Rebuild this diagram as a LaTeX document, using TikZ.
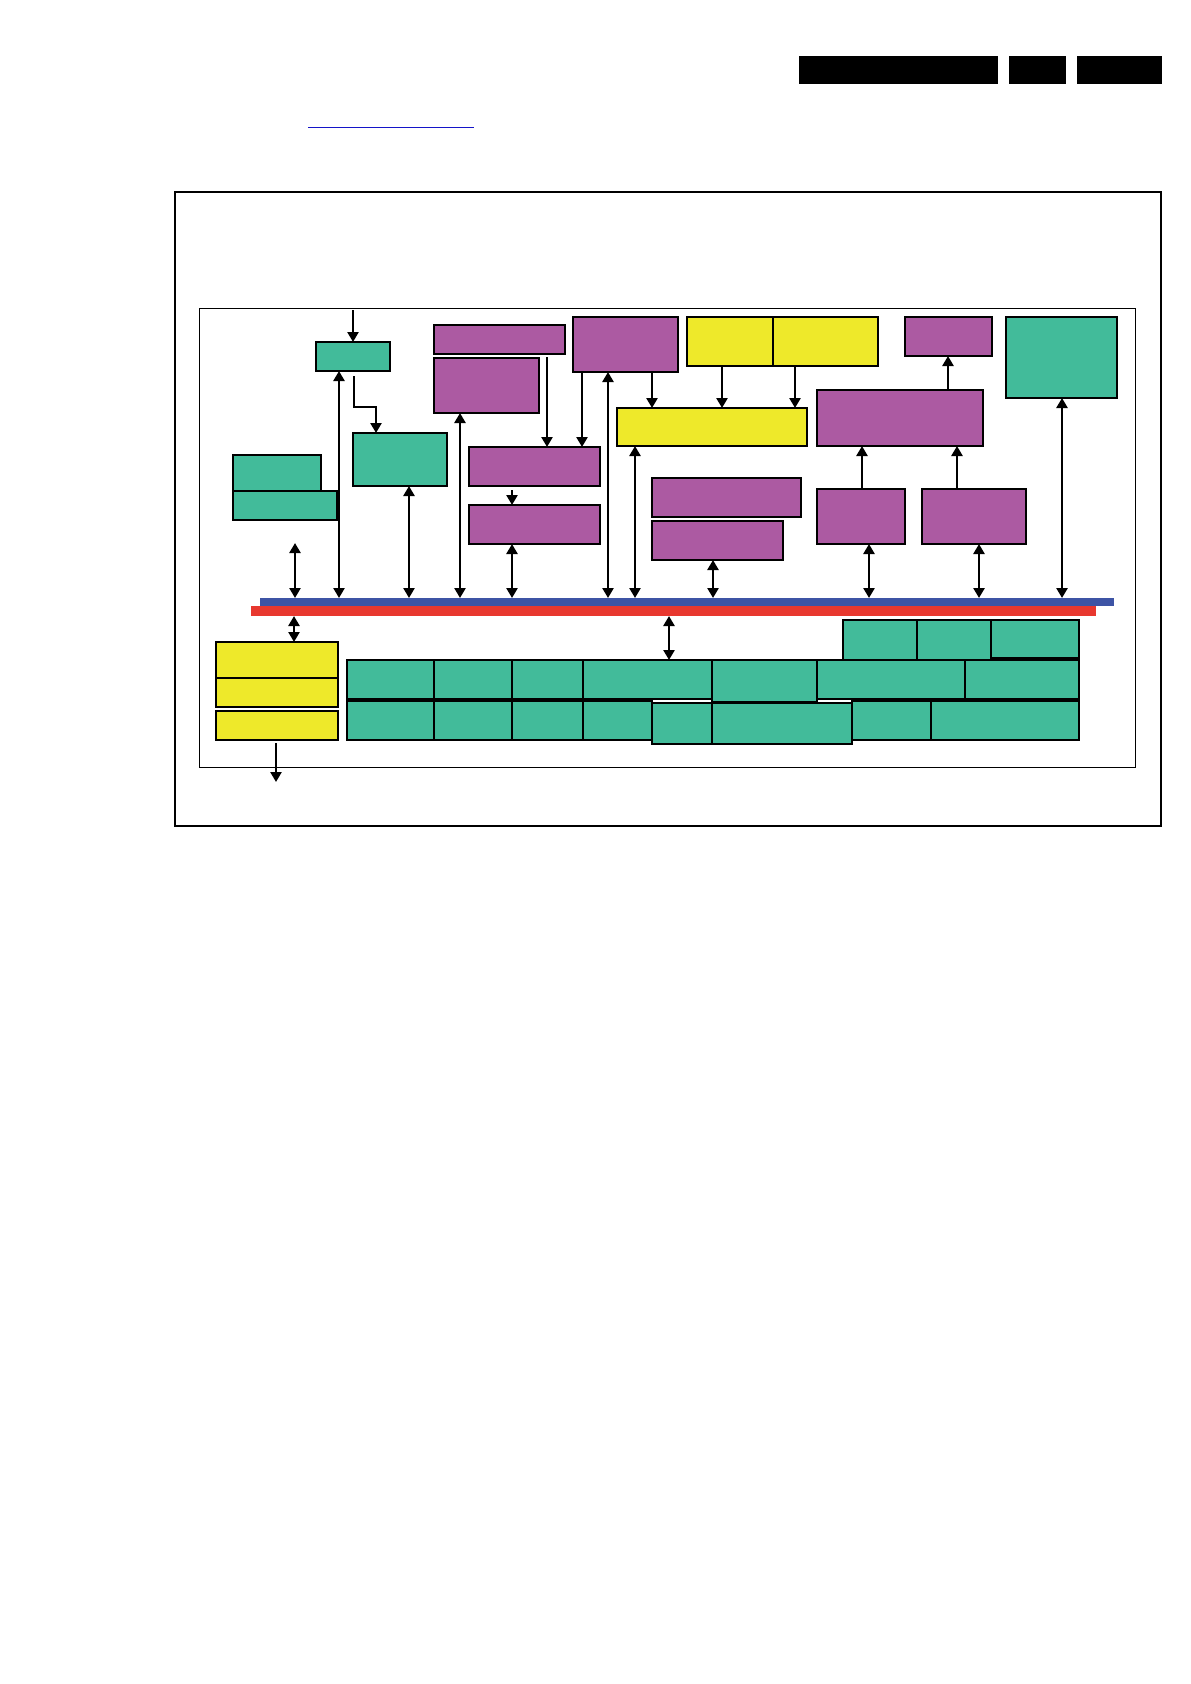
\documentclass[tikz,border=0pt]{standalone}
\usetikzlibrary{arrows.meta,positioning}
\definecolor{grnfill}{RGB}{66,187,154}
\definecolor{magfill}{RGB}{172,90,162}
\definecolor{yelfill}{RGB}{238,233,42}
\definecolor{busblue}{RGB}{61,84,165}
\definecolor{busred}{RGB}{232,56,47}
\definecolor{linkblue}{RGB}{20,20,200}

% block from top-left (x1,y1) to bottom-right (x2,y2), in pixels
\newcommand\blockbox[6]{%
  \node[#1, minimum width={(#5-#3)*1pt}, minimum height={(#6-#4)*1pt}] (#2) at (#3,#4) {};}

\begin{document}
\begin{tikzpicture}[x=1pt,y=-1pt,
    box/.style={draw=black, line width=2pt, inner sep=0pt, outer sep=0pt, anchor=north west},
    grn/.style={box, fill=grnfill},
    mag/.style={box, fill=magfill},
    yel/.style={box, fill=yelfill},
    bar/.style={box, draw=none, fill=black},
    link/.style={line width=2.6pt, -{Triangle[length=10pt,width=11pt]}},
    both/.style={line width=2.6pt, {Triangle[length=10pt,width=11pt]}-{Triangle[length=10pt,width=11pt]}}]
    \useasboundingbox (0,0) rectangle (1191,1684);

    % page header
    \blockbox{bar}{hdA}{799}{56}{998}{84}
    \blockbox{bar}{hdB}{1009}{56}{1066}{84}
    \blockbox{bar}{hdC}{1077}{56}{1162}{84}
    \draw[linkblue, line width=1pt] (308,127) -- (474,127);

    % frames
    \blockbox{box, line width=2pt}{frame}{175}{192}{1161}{826}
    \blockbox{box, line width=1pt}{chip}{199}{308}{1135}{767}

    % upper blocks
    \blockbox{grn}{inp}{316}{342}{390}{371}
    \blockbox{grn}{dec}{353}{433}{447}{486}
    \blockbox{grn}{ifA}{233}{455}{321}{491}
    \blockbox{grn}{ifB}{233}{491}{337}{520}
    \blockbox{mag}{vidA}{434}{325}{565}{354}
    \blockbox{mag}{vidB}{434}{358}{539}{413}
    \blockbox{mag}{proc}{573}{317}{678}{372}
    \blockbox{yel}{memA}{687}{317}{773}{366}
    \blockbox{yel}{memB}{773}{317}{878}{366}
    \blockbox{yel}{memC}{617}{408}{807}{446}
    \blockbox{mag}{scl}{469}{447}{600}{486}
    \blockbox{mag}{mix}{469}{505}{600}{544}
    \blockbox{mag}{gfxA}{652}{478}{801}{517}
    \blockbox{mag}{gfxB}{652}{521}{783}{560}
    \blockbox{mag}{outp}{905}{317}{992}{356}
    \blockbox{grn}{cpu}{1006}{317}{1117}{398}
    \blockbox{mag}{blend}{817}{390}{983}{446}
    \blockbox{mag}{lyrA}{817}{489}{905}{544}
    \blockbox{mag}{lyrB}{922}{489}{1026}{544}

    % buses
    \blockbox{box, draw=none, fill=busblue}{bus}{260}{598}{1114}{606}
    \blockbox{box, draw=none, fill=busred}{rbus}{251}{606}{1096}{616}

    % lower blocks
    \blockbox{yel}{extA}{216}{642}{338}{678}
    \blockbox{yel}{extB}{216}{678}{338}{707}
    \blockbox{yel}{extC}{216}{711}{338}{740}
    \foreach \n/\a/\b/\c/\d in {p1/843/620/917/660, p2/917/620/991/660, p3/991/620/1079/658,
      q1/347/660/434/699, q2/434/660/512/699, q3/512/660/583/699, q4/583/660/712/699,
      q5/712/660/817/702, q6/817/660/965/699, q7/965/660/1079/699,
      r1/347/701/434/740, r2/434/701/512/740, r3/512/701/583/740, r4/583/701/652/740,
      r5/652/703/712/744, r6/712/703/852/744, r7/852/701/931/740, r8/931/701/1079/740} {
      \blockbox{grn}{\n}{\a}{\b}{\c}{\d}
    }

    % connectors
    \coordinate (vin) at (353,310);
    \coordinate (ifx) at (295,543);
    \coordinate (vout) at (276,782);
    \draw[link] (vin) -- (vin |- inp.north);
    \draw[link] ([yshift=-5pt]inp.south -| 354,0) |- (376,407) -- (dec.north -| 376,0);
    \draw[both] (ifx) -- (ifx |- bus.north);
    \foreach \n/\x in {inp/339, dec/409, vidB/460, mix/512, proc/608, memC/635,
      gfxB/713, lyrA/869, lyrB/979, cpu/1062} {
      \draw[both] (\n.south -| \x,0) -- (bus.north -| \x,0);
    }
    \draw[link] ([yshift=-3pt]vidA.south -| 547,0) -- (scl.north -| 547,0);
    \draw[link] (proc.south -| 582,0) -- (scl.north -| 582,0);
    \draw[link] ([yshift=-4pt]scl.south -| 512,0) -- (mix.north -| 512,0);
    \draw[link] (proc.south -| 652,0) -- (memC.north -| 652,0);
    \draw[link] (memA.south -| 722,0) -- (memC.north -| 722,0);
    \draw[link] (memB.south -| 795,0) -- (memC.north -| 795,0);
    \draw[link] (lyrA.north -| 862,0) -- (blend.south -| 862,0);
    \draw[link] (lyrB.north -| 957,0) -- (blend.south -| 957,0);
    \draw[link] (blend.north -| 948,0) -- (outp.south -| 948,0);
    \draw[both] (rbus.south -| 294,0) -- (extA.north -| 294,0);
    \draw[both] (rbus.south -| 669,0) -- (q4.north -| 669,0);
    \draw[link] ([yshift=-3pt]extC.south -| vout) -- (vout);
\end{tikzpicture}
\end{document}
